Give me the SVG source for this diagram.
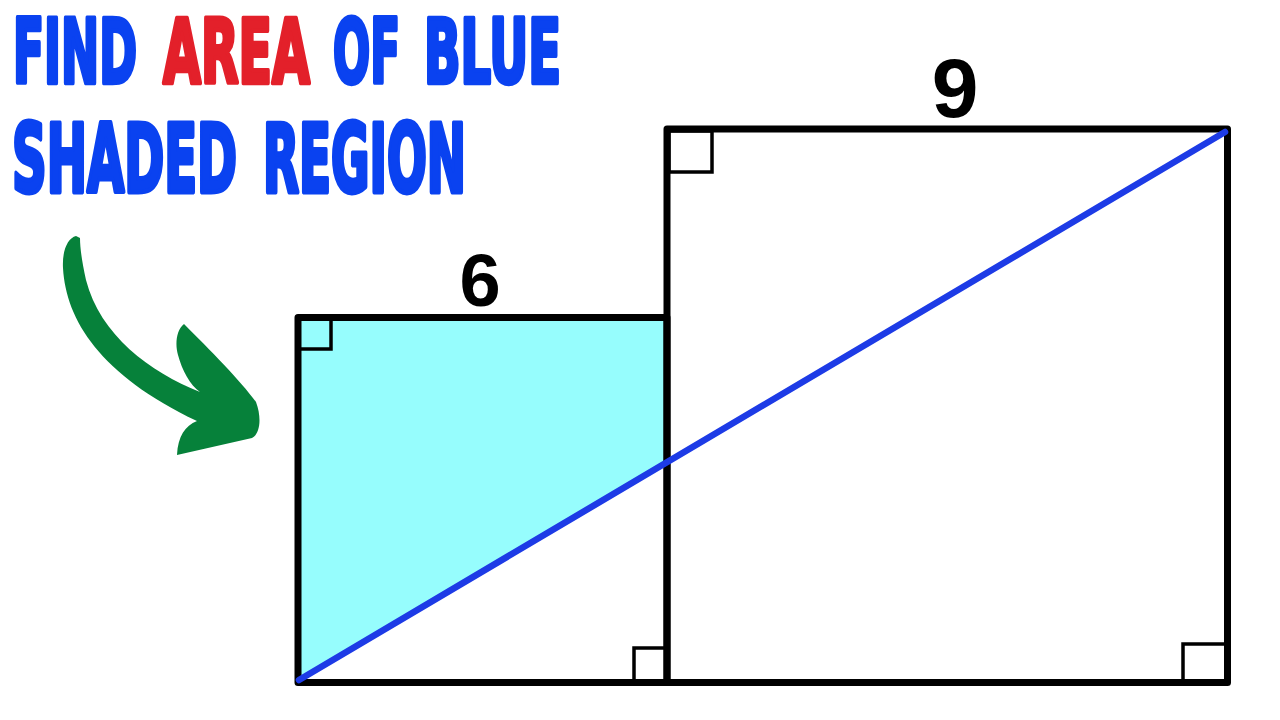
<svg xmlns="http://www.w3.org/2000/svg" width="1280" height="720" viewBox="0 0 1280 720">
<style>
.title{font-family:"Liberation Sans Narrow","DejaVu Sans Condensed","Liberation Sans",sans-serif;font-weight:bold;font-size:50px;fill:#0a42f0;stroke:#0a42f0;stroke-width:2.6;stroke-linejoin:round}
.red{fill:#e3202a;stroke:#e3202a}
.num{font-family:"Liberation Sans",Arial,sans-serif;font-weight:bold;fill:#000;text-anchor:middle}
.edge{fill:none;stroke:#000;stroke-width:7;stroke-linejoin:round;stroke-linecap:round}
.mark{fill:none;stroke:#000;stroke-width:3.5}
</style>
<rect width="1280" height="720" fill="#fff"/>
<g id="title">
<text class="title" transform="translate(13,83) scale(1,1.78)" textLength="124" lengthAdjust="spacingAndGlyphs">FIND</text>
<text class="title red" transform="translate(163,83) scale(1,1.78)" textLength="147" lengthAdjust="spacingAndGlyphs">AREA</text>
<text class="title" transform="translate(333,83) scale(1,1.78)" textLength="67" lengthAdjust="spacingAndGlyphs">OF</text>
<text class="title" transform="translate(424,83) scale(1,1.78)" textLength="137" lengthAdjust="spacingAndGlyphs">BLUE</text>
<text class="title" transform="translate(12,192) scale(1,1.9)" textLength="225" lengthAdjust="spacingAndGlyphs">SHADED</text>
<text class="title" transform="translate(263,192) scale(1,1.9)" textLength="203" lengthAdjust="spacingAndGlyphs">REGION</text>
</g>
<g id="arrow">
<path fill="#06813a" d="M 76,236 C 68,238 62,250 63,268 C 66,320 100,375 197,421 C 185,426 178,436 177,455 L 252,438 C 260,434 262,418 256,402 C 240,380 210,350 184,324 C 176,330 175,345 178,355 C 182,370 190,385 200,392 C 150,372 100,335 86,280 C 82,262 80,248 80,238 Z"/>
</g>
<g id="shaded">
<polygon points="298,317.5 667,317.5 667,462 298,681" fill="#96fdfd"/>
</g>
<g id="small-square">
<rect class="mark" x="299" y="319" width="32" height="30"/>
<rect class="mark" x="634" y="648" width="33" height="34"/>
<path class="edge" d="M 298,682.5 L 298,317.5 L 667,317.5 L 667,682.5 Z"/>
</g>
<g id="big-square">
<rect class="mark" x="669" y="131" width="43" height="41"/>
<rect class="mark" x="1183" y="644" width="44" height="38"/>
<path class="edge" d="M 667,682.5 L 667,129 L 1227.5,129 L 1227.5,682.5 Z"/>
</g>
<g id="connectors">
<line x1="299" y1="680" x2="1225" y2="132" stroke="#1d3be6" stroke-width="6.5" stroke-linecap="round"/>
</g>
<g id="labels">
<text class="num" x="480" y="306" font-size="74">6</text>
<text class="num" x="955" y="117" font-size="84">9</text>
</g>
</svg>
